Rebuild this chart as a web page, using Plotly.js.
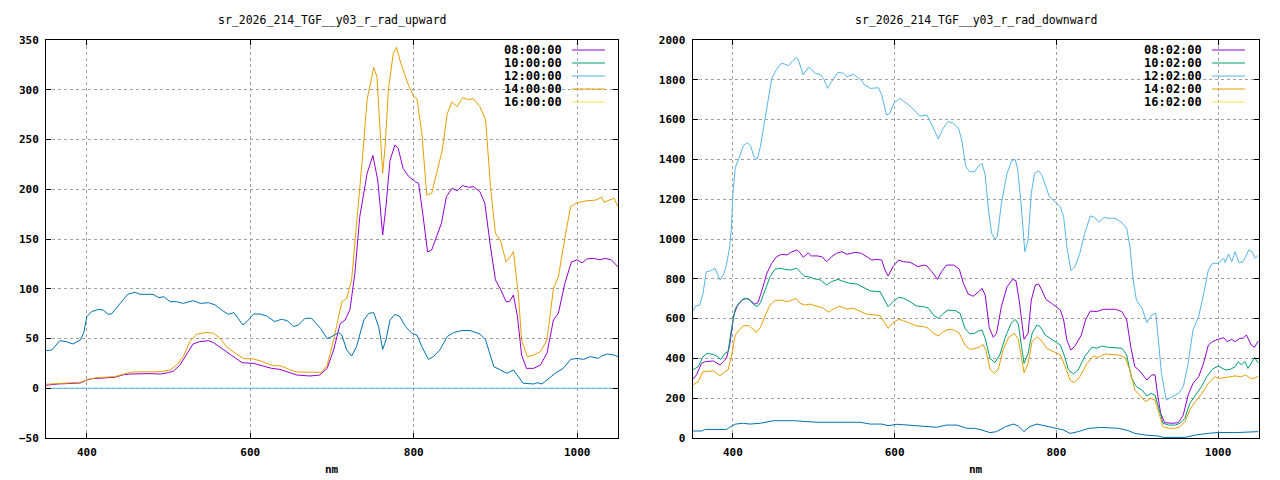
<!DOCTYPE html>
<html>
<head>
<meta charset="utf-8">
<script src="https://cdn.plot.ly/plotly-3.0.1.min.js"></script>
<style>
  html, body { margin: 0; padding: 0; background: #fff; }
  #chart { width: 1280px; height: 480px; }
  /* gnuplot draws tick labels in a heavy mono face */
  #chart .xtick text, #chart .ytick text,
  #chart .x2tick text, #chart .y2tick text { font-weight: bold !important; }
</style>
</head>
<body>
<div id="chart"></div>
<script>
// ── Data ───────────────────────────────────────────────────────────────────

const UP_TITLE   = 'sr_2026_214_TGF__y03_r_rad_upward';
const DOWN_TITLE = 'sr_2026_214_TGF__y03_r_rad_downward';
const UP_NAMES   = ['08:00:00', '10:00:00', '12:00:00', '14:00:00', '16:00:00'];
const DOWN_NAMES = ['08:02:00', '10:02:00', '12:02:00', '14:02:00', '16:02:00'];
const X_LABEL    = 'nm';

// upward, 08:00
const UP_NM_08 = [350,365,392,400,406,434,445,453,477,490,500,506,514,522,530,538,549,555,565,577,590,604,616,626,636,647,657,673,685,694,702,710,716,722,728,734,743,750,756,759,762,766,771,777,781,787,794,802,806,811,817,822,828,834,840,847,853,860,867,873,881,887,894,900,906,913,917,922,927,932,938,947,955,963,971,977,985,993,1000,1006,1012,1020,1028,1034,1042,1050];
const UP_08    = [3,4.3,5.3,8.3,9.6,11,13.6,14.3,14.7,14.3,15.7,17.3,23.4,33.5,44.5,46.8,47.8,45.8,40,32.4,25.7,25,22.4,20,19,15.7,13.3,12.3,13.3,20,38.5,65,68.6,79,115.5,172.5,216,234,209,182.5,154,182.5,229,244.5,241,221,212.7,207.6,206,176,137,139,152,166,192.6,201,198.6,203.6,202,202.6,197.6,186,142,109,100,87,87,93.7,72,33.4,20,20,23.4,35,68.6,75.3,105.5,127,129,126,130,130.6,129,130.6,129,122];
// upward, 10:00 and 16:00 draw nothing visible
const UP_NM_10 = [];
const UP_10    = [];
// upward, 12:00 lies on zero
const UP_NM_12 = [350, 1050];
const UP_12    = [0, 0];
// upward, 14:00
const UP_NM_14 = [350,367,392,402,412,434,445,455,490,502,510,518,526,534,547,555,563,571,583,592,602,612,620,628,638,649,657,687,694,702,712,718,724,730,737,743,751,755,759,762,765,769,775,779,783,792,800,804,810,816,822,828,835,841,847,853,860,867,873,881,888,894,900,906,913,918,922,928,932,939,947,955,963,971,977,986,992,1000,1012,1022,1030,1033,1045,1050];
const UP_14    = [4,5,6,9,10.6,11.7,14.3,16.3,16.7,18.3,23.4,31.8,46.8,54.2,56.2,55.2,50.2,41.8,34.4,29.7,29.7,27.7,25,22.7,22.4,18.3,16.3,16,23,48.5,87,90,109,162,229,290,322.5,313,249.5,216,243,300,336.6,342.6,330,308,293,291,256,194,196,216,239.5,276,288,283,292,290,291,283,269.6,202.6,155.7,149,127,132,137.3,95.4,48.5,31.8,33.4,36.8,48.5,100,112,155.7,182.5,186.5,188.5,189,192,187,191,182.5];
const UP_NM_16 = [];
const UP_16    = [];
// upward, extra untitled curve
const UP_NM_X  = [350,357,367,375,383,392,396,400,406,414,420,426,430,435,441,450,459,465,481,488,494,502,510,518,530,539,549,557,565,573,580,585,591,596,604,612,620,630,638,645,653,659,667,675,681,686,694,700,708,712,718,724,730,739,745,751,757,762,766,771,777,783,790,798,804,810,818,824,832,841,849,859,869,881,888,894,898,906,914,922,928,934,947,951,957,963,973,983,992,1000,1008,1016,1026,1030,1037,1045,1050];
const UP_X     = [37.8,38.4,47.8,46.8,44.5,48.5,55.2,72,77,79.3,78.6,74.3,74.6,79.3,85.3,94.4,96.4,94.4,94.4,91,92,87,87,85.3,88,85.3,86,83.7,78.6,74.3,76,70.3,63.6,67,74.6,74.6,72.6,67,69.3,68,62,63.6,70.3,70.3,65.3,60.2,50,52,56,53.5,38.5,32.4,41.8,68.6,75.3,76,62,39,48.5,68.6,74.3,72,62,55,53.5,41.8,29,31.8,38.5,52,56,58,58,54.5,48.5,33.4,21.7,18.4,15,18.4,11.7,5,4.3,5.6,4.3,8.3,15,20,29,30,29,31.8,30,32.4,34.4,33.4,31.8];

// downward, 08:02
const DN_NM_08 = [350,355,361,366,376,380,384,388,392,396,401,405,411,417,421,427,431,436,442,448,454,460,467,473,479,483,487,493,497,504,510,516,522,528,535,541,545,551,559,565,572,578,584,588,592,598,605,611,619,629,636,640,646,653,658,664,673,680,685,691,697,704,708,712,717,722,726,732,739,746,750,754,757,760,765,769,774,778,782,787,794,805,809,813,818,823,831,836,842,850,858,873,881,887,892,897,902,908,912,918,922,925,929,934,943,951,957,963,969,976,982,988,993,1000,1007,1011,1017,1021,1027,1031,1035,1041,1045,1050];
const DN_08    = [295,317,375,384,387,379,367,384,400,467,618,660,693,702,693,673,680,744,828,878,911,923,920,936,945,931,908,931,915,915,911,886,911,928,936,923,928,933,928,911,894,898,894,844,814,861,894,886,883,861,869,864,836,797,836,869,869,848,777,724,712,735,752,718,555,506,526,660,760,797,791,693,593,496,526,693,769,774,744,697,677,643,593,492,442,462,518,593,638,635,647,647,635,593,459,358,342,308,291,317,317,224,124,77,74,77,116,216,275,308,375,467,484,496,504,484,496,484,501,501,518,467,456,489];
// downward, 10:02
const DN_NM_10 = [350,357,363,368,376,380,385,390,394,398,403,408,414,420,425,430,434,440,446,452,458,464,471,479,485,489,493,499,508,516,522,530,537,545,553,561,570,582,588,592,598,605,611,619,627,636,642,648,654,660,666,675,681,687,693,699,704,708,712,718,724,730,737,744,749,753,757,760,765,770,776,780,786,792,805,810,815,821,827,835,844,850,856,864,881,887,893,899,906,912,917,922,927,932,939,947,953,959,965,972,980,986,993,1000,1009,1015,1021,1025,1029,1033,1037,1041,1045,1050];
const DN_10    = [342,358,409,425,420,412,395,425,434,543,652,680,702,697,673,660,680,744,811,848,853,848,844,853,828,811,811,802,794,769,786,797,786,777,774,757,739,735,693,660,685,707,702,685,663,660,652,618,601,626,643,640,626,551,523,526,539,543,500,400,379,417,509,576,596,573,459,375,425,526,568,560,518,501,467,412,342,322,342,409,456,451,462,456,451,417,300,258,241,211,224,216,141,74,65,65,74,99,174,216,261,308,345,362,342,345,358,384,367,384,350,375,405,375];
// downward, 12:02
const DN_NM_12 = [350,354,359,363,367,372,378,384,389,392,396,398,400,403,407,413,418,422,426,430,434,438,443,448,454,460,464,469,473,478,481,487,493,496,502,508,512,517,522,530,537,541,549,557,563,570,580,584,590,594,599,606,611,619,631,640,648,654,660,666,673,679,683,688,693,699,703,708,712,716,720,724,727,732,739,745,749,752,756,759,761,765,769,773,778,782,786,791,798,805,809,813,818,823,829,835,842,846,853,859,864,873,881,887,891,895,899,906,912,918,923,926,930,936,943,951,957,963,969,976,984,988,993,1000,1007,1009,1013,1017,1021,1026,1031,1038,1042,1046,1050];
const DN_12    = [635,663,668,727,835,840,852,794,827,870,960,1050,1230,1360,1400,1470,1484,1466,1414,1400,1464,1564,1682,1807,1853,1883,1879,1871,1891,1913,1899,1824,1861,1858,1832,1827,1807,1757,1791,1838,1832,1816,1827,1804,1774,1757,1760,1724,1623,1631,1682,1707,1693,1668,1618,1623,1556,1503,1556,1590,1581,1556,1497,1363,1338,1338,1363,1380,1322,1146,1028,1000,1012,1179,1330,1394,1400,1355,1196,1028,936,995,1229,1330,1343,1322,1271,1216,1188,1162,1112,962,841,861,928,1028,1116,1112,1084,1109,1104,1104,1082,1054,962,794,693,652,580,618,627,509,325,191,208,224,258,375,543,610,760,844,878,878,903,881,925,886,936,881,886,945,936,903,920];
// downward, 14:02
const DN_NM_14 = [350,357,363,370,376,380,384,390,394,398,403,408,413,420,425,429,434,440,446,452,460,467,473,478,483,489,495,504,512,518,524,532,541,549,557,565,576,582,588,592,598,605,611,619,627,636,642,648,654,660,666,673,680,687,693,699,706,709,713,718,723,728,734,741,748,753,757,760,765,770,776,781,788,794,805,811,817,822,829,838,846,852,860,877,885,891,897,904,910,917,922,927,932,939,947,953,959,965,972,980,988,996,1002,1011,1021,1029,1034,1040,1045,1050];
const DN_14    = [266,283,333,337,337,325,313,333,342,409,518,543,564,564,543,531,556,618,668,690,693,685,693,702,677,668,673,660,652,632,648,663,648,652,638,623,618,615,576,551,580,596,590,576,563,560,551,526,513,534,546,543,526,467,446,449,459,471,440,345,325,342,442,506,526,496,409,328,375,484,509,492,451,439,417,358,291,278,308,375,412,405,422,417,405,342,241,211,183,199,191,124,57,49,49,57,82,141,183,224,275,308,300,305,312,308,317,300,300,312];
const DN_NM_16 = [];
const DN_16    = [];
// downward, extra untitled curve
const DN_NM_X  = [350,361,366,380,384,392,396,403,413,421,434,442,450,475,483,504,557,570,584,592,603,619,640,652,664,677,689,699,708,718,726,737,747,753,760,767,776,786,798,809,817,827,840,856,877,889,897,910,926,932,959,972,988,1000,1021,1038,1050];
const DN_X     = [35,35,43,43,40,43,54,70,74,70,74,82,87,87,84,79,79,70,70,62,69,65,60,54,65,65,49,48.5,40,27,32,57,70,60,32,57,70,60,48.5,40,23,32,48.5,53,48.5,37,23,15,10,3,3,15,23,28,27,30,32];

const X_RANGE    = [350, 1050];
const UP_RANGE   = [-50, 350];
const DOWN_RANGE = [0, 2000];

// gnuplot default line colours
const SERIES_COLORS = ['#9400d3', '#009e73', '#56b4e9', '#e69f00', '#f0e442'];
const EXTRA_COLOR   = '#0072b2';

// ── Layout geometry (pixels in a 1280x480 page) ────────────────────────────

const W = 1280, H = 480;
const PLOT_TOP = 40, PLOT_BOTTOM = 438;
const LEFT_DOMAIN  = [46, 618];
const RIGHT_DOMAIN = [692.5, 1258.5];
const MONO = 'DejaVu Sans Mono, Liberation Mono, monospace';

const px2x = p => p / W;
const px2y = p => (PLOT_BOTTOM - p) / (PLOT_BOTTOM - PLOT_TOP);

function axisStyle(overrides) {
  return Object.assign({
    showline: true,
    linecolor: '#000',
    linewidth: 1,
    mirror: 'ticks',
    ticks: 'inside',
    ticklen: 5,
    tickwidth: 1,
    tickcolor: '#000',
    showgrid: true,
    gridcolor: '#a0a0a0',
    griddash: 'dot',
    gridwidth: 1,
    zeroline: false,
    automargin: false,
    tickfont: { family: MONO, size: 11, color: '#000', weight: 700 },
    fixedrange: true,
  }, overrides);
}

function line(x, y, color, name, xa, ya) {
  return {
    type: 'scatter', mode: 'lines', x, y, name,
    xaxis: xa, yaxis: ya,
    line: { color, width: 1 },
    showlegend: false,
    hoverinfo: 'skip',
  };
}

const traces = [
  line(UP_NM_08, UP_08, SERIES_COLORS[0], UP_NAMES[0], 'x', 'y'),
  line(UP_NM_10, UP_10, SERIES_COLORS[1], UP_NAMES[1], 'x', 'y'),
  line(UP_NM_12, UP_12, SERIES_COLORS[2], UP_NAMES[2], 'x', 'y'),
  line(UP_NM_14, UP_14, SERIES_COLORS[3], UP_NAMES[3], 'x', 'y'),
  line(UP_NM_16, UP_16, SERIES_COLORS[4], UP_NAMES[4], 'x', 'y'),
  line(UP_NM_X,  UP_X,  EXTRA_COLOR, '', 'x', 'y'),
  line(DN_NM_08, DN_08, SERIES_COLORS[0], DOWN_NAMES[0], 'x2', 'y2'),
  line(DN_NM_10, DN_10, SERIES_COLORS[1], DOWN_NAMES[1], 'x2', 'y2'),
  line(DN_NM_12, DN_12, SERIES_COLORS[2], DOWN_NAMES[2], 'x2', 'y2'),
  line(DN_NM_14, DN_14, SERIES_COLORS[3], DOWN_NAMES[3], 'x2', 'y2'),
  line(DN_NM_16, DN_16, SERIES_COLORS[4], DOWN_NAMES[4], 'x2', 'y2'),
  line(DN_NM_X,  DN_X,  EXTRA_COLOR, '', 'x2', 'y2'),
];

// ── gnuplot-style key: label, then a short sample line ─────────────────────

const annotations = [];
const shapes = [];

function addKey(names, textRight, lineFrom, lineTo) {
  names.forEach((name, i) => {
    const py = 50 + i * 13;
    annotations.push({
      xref: 'paper', yref: 'paper',
      x: px2x(textRight), y: px2y(py),
      xanchor: 'right', yanchor: 'middle',
      text: name, showarrow: false,
      font: { family: MONO, size: 12, color: '#000', weight: 700 },
    });
    shapes.push({
      type: 'line', xref: 'paper', yref: 'paper',
      x0: px2x(lineFrom), x1: px2x(lineTo),
      y0: px2y(py), y1: px2y(py),
      line: { color: SERIES_COLORS[i], width: 1 },
    });
  });
}

addKey(UP_NAMES, 564, 572, 605);
addKey(DOWN_NAMES, 1204, 1212, 1245);

function addTitle(text, xa) {
  annotations.push({
    xref: xa + ' domain', yref: 'paper',
    x: 0.5, y: px2y(20), xanchor: 'center', yanchor: 'middle',
    text, showarrow: false,
    font: { family: MONO, size: 11.5, color: '#000' },
  });
}

function addXLabel(xa) {
  annotations.push({
    xref: xa + ' domain', yref: 'paper',
    x: 0.5, y: px2y(470), xanchor: 'center', yanchor: 'middle',
    text: X_LABEL, showarrow: false,
    font: { family: MONO, size: 11, color: '#000', weight: 700 },
  });
}

addTitle(UP_TITLE, 'x');
addTitle(DOWN_TITLE, 'x2');
addXLabel('x');
addXLabel('x2');

const layout = {
  width: W, height: H,
  paper_bgcolor: '#fff', plot_bgcolor: '#fff',
  margin: { l: 0, r: 0, t: PLOT_TOP, b: H - PLOT_BOTTOM, pad: 0 },
  showlegend: false,
  xaxis:  axisStyle({ domain: LEFT_DOMAIN.map(px2x),  range: X_RANGE, dtick: 200, tick0: 0, anchor: 'y',  ticklabelstandoff: 4 }),
  yaxis:  axisStyle({ range: UP_RANGE, dtick: 50, anchor: 'x', ticklabelstandoff: 4 }),
  xaxis2: axisStyle({ domain: RIGHT_DOMAIN.map(px2x), range: X_RANGE, dtick: 200, tick0: 0, anchor: 'y2', ticklabelstandoff: 4 }),
  yaxis2: axisStyle({ range: DOWN_RANGE, dtick: 200, anchor: 'x2', ticklabelstandoff: 4 }),
  annotations,
  shapes,
};

Plotly.newPlot('chart', traces, layout, { displayModeBar: false, staticPlot: true });
</script>
</body>
</html>
